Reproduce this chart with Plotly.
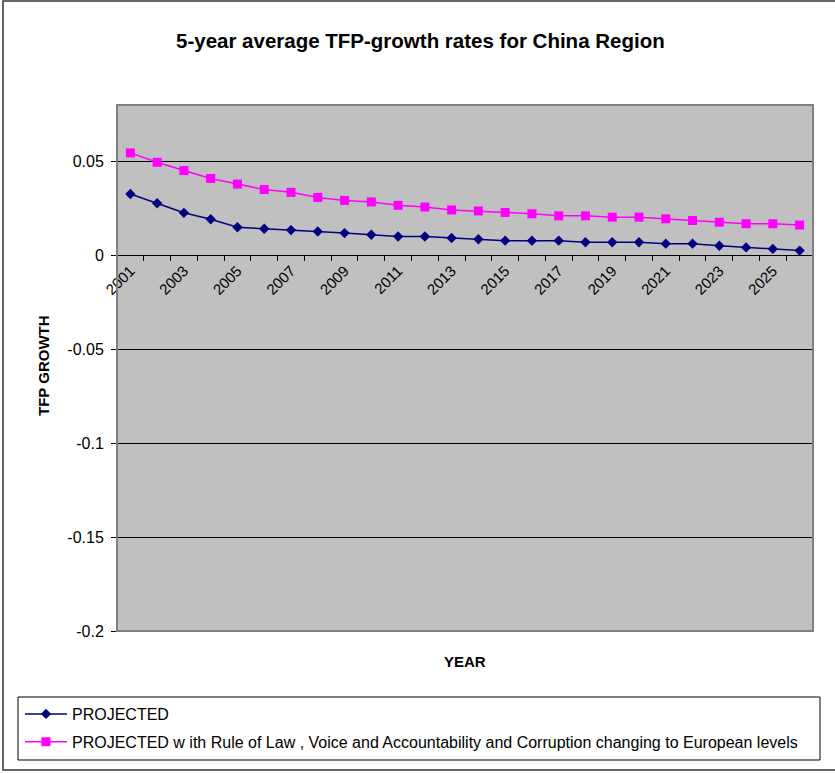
import plotly.graph_objects as go

years = [2001, 2002, 2003, 2004, 2005, 2006, 2007, 2008, 2009, 2010, 2011, 2012, 2013,
         2014, 2015, 2016, 2017, 2018, 2019, 2020, 2021, 2022, 2023, 2024, 2025, 2026]
projected = [0.0326, 0.0277, 0.0226, 0.0192, 0.0149, 0.0141, 0.0134, 0.0127, 0.0118, 0.0109,
             0.0100, 0.0100, 0.0092, 0.0085, 0.0078, 0.0078, 0.0078, 0.0069, 0.0069, 0.0069,
             0.0062, 0.0062, 0.0051, 0.0042, 0.0034, 0.0025]
projected_rol = [0.0545, 0.0495, 0.0451, 0.0409, 0.0379, 0.0350, 0.0335, 0.0308, 0.0292, 0.0284,
                 0.0266, 0.0257, 0.0241, 0.0236, 0.0228, 0.0221, 0.0210, 0.0210, 0.0203, 0.0203,
                 0.0194, 0.0185, 0.0176, 0.0168, 0.0168, 0.0161]
year_labels = [2001, 2003, 2005, 2007, 2009, 2011, 2013, 2015, 2017, 2019, 2021, 2023, 2025]
y_ticks = [0.05, 0, -0.05, -0.1, -0.15, -0.2]
y_ticktext = ["0.05", "0", "-0.05", "-0.1", "-0.15", "-0.2"]

title = "5-year average TFP-growth rates for China Region"
name1 = "PROJECTED"
name2 = "PROJECTED w ith Rule of Law , Voice and Accountability and Corruption changing to European levels"

FONT = "Liberation Sans, Arial, sans-serif"

W, H = 835, 773
L, R, T, B = 117, 22, 105, 142
pw, ph = W - L - R, H - T - B


def px(x):
    return (x - L) / pw


def py(y):
    return (H - B - y) / ph


y_min, y_max = -0.2, 0.08

fig = go.Figure()
fig.add_trace(go.Scatter(
    x=years, y=projected, name=name1, mode="lines+markers", legendgroup="a",
    line=dict(color="#000080", width=1.5),
    marker=dict(symbol="diamond", size=8, color="#000080"),
))
fig.add_trace(go.Scatter(
    x=years, y=projected_rol, name=name2, mode="lines+markers", legendgroup="b",
    line=dict(color="#FF00FF", width=1.5),
    marker=dict(symbol="square", size=9, color="#FF00FF"),
))

fig.update_layout(
    width=W, height=H,
    margin=dict(l=L, r=R, t=T, b=B),
    paper_bgcolor="white",
    plot_bgcolor="#C0C0C0",
    font=dict(family=FONT, size=15, color="black"),
    showlegend=True,
    legend=dict(
        x=px(20), y=py(697), xanchor="left", yanchor="top",
        bgcolor="rgba(0,0,0,0)", borderwidth=0,
        font=dict(family=FONT, size=16, color="black"),
        itemwidth=42, tracegroupgap=4,
    ),
    xaxis=dict(
        type="linear",
        range=[2000.5, 2026.5],
        anchor="free",
        position=(0 - y_min) / (y_max - y_min),
        tickvals=year_labels,
        ticktext=[str(v) for v in year_labels],
        tickangle=-45,
        ticks="",
        tickfont=dict(family=FONT, size=15),
        showgrid=False,
        zeroline=False,
        showline=True, linecolor="black", linewidth=1,
        minor=dict(ticks="outside", tick0=2000.5, dtick=1, ticklen=5,
                   tickcolor="black", tickwidth=1, showgrid=False),
    ),
    yaxis=dict(
        range=[y_min, y_max],
        tickvals=y_ticks,
        ticktext=y_ticktext,
        ticks="outside", ticklen=5, tickcolor="black",
        tickfont=dict(family=FONT, size=16),
        ticklabelstandoff=4,
        showgrid=True, gridcolor="black", gridwidth=1,
        zeroline=False,
        showline=True, linecolor="black", linewidth=1,
    ),
    shapes=[
        # plot area border
        dict(type="rect", xref="paper", yref="paper", x0=0, x1=1, y0=0, y1=1,
             line=dict(color="#808080", width=2), layer="above"),
        # legend box
        dict(type="rect", xref="paper", yref="paper",
             x0=px(18), x1=px(820), y0=py(697), y1=py(760),
             line=dict(color="black", width=1), fillcolor="rgba(0,0,0,0)"),
        # outer chart border
        dict(type="rect", xref="paper", yref="paper",
             x0=px(3), x1=px(845), y0=py(1), y1=py(770),
             line=dict(color="#333333", width=1.5), fillcolor="rgba(0,0,0,0)"),
    ],
    annotations=[
        dict(text="<b>" + title + "</b>", xref="paper", yref="paper",
             x=px(420), y=py(40), xanchor="center", yanchor="middle",
             showarrow=False, font=dict(family=FONT, size=20.5, color="black")),
        dict(text="<b>YEAR</b>", xref="paper", yref="paper",
             x=px(465), y=py(661), xanchor="center", yanchor="middle",
             showarrow=False, font=dict(family=FONT, size=15, color="black")),
        dict(text="<b>TFP GROWTH</b>", xref="paper", yref="paper",
             x=px(43), y=py(366), xanchor="center", yanchor="middle", textangle=-90,
             showarrow=False, font=dict(family=FONT, size=15, color="black")),
    ],
)

fig.write_html("out.html", config={"displayModeBar": False},
               post_script="document.body.style.margin='0';document.body.style.overflow='hidden';")
